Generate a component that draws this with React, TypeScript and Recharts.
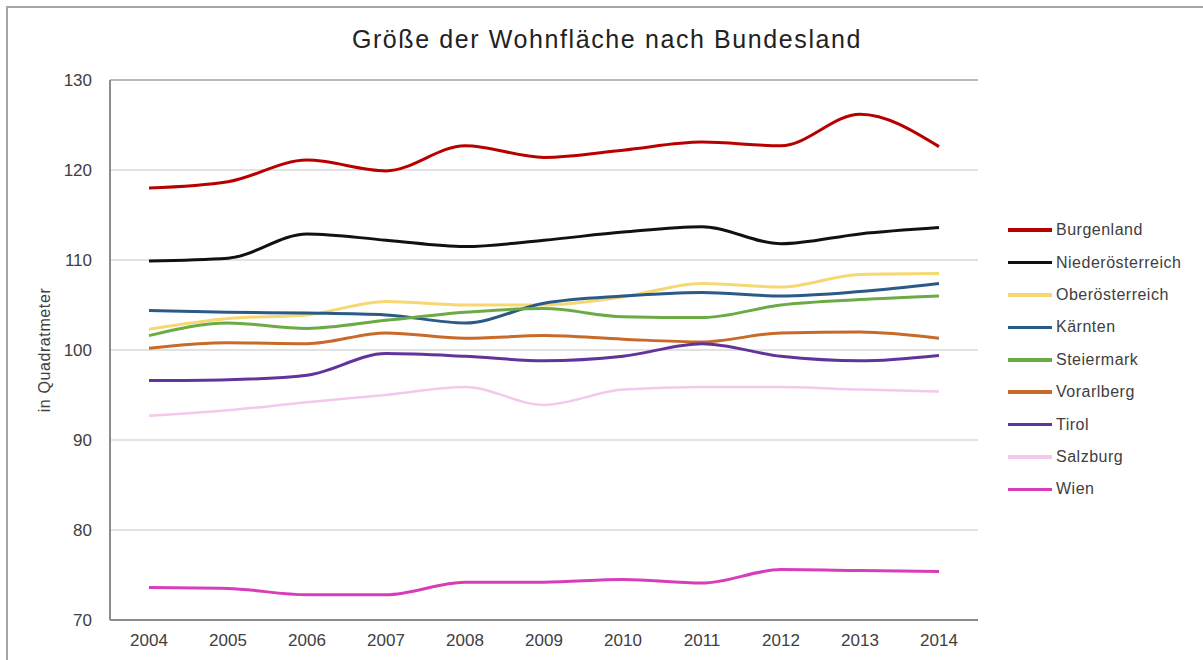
import { LineChart, Line, XAxis, YAxis, CartesianGrid, ReferenceLine } from "recharts";

const years = ["2004", "2005", "2006", "2007", "2008", "2009", "2010", "2011", "2012", "2013", "2014"];
const yTicks = [70, 80, 90, 100, 110, 120, 130];

const burgenland = [118.0, 118.7, 121.1, 119.9, 122.7, 121.4, 122.2, 123.1, 122.7, 126.2, 122.6];
const niederoesterreich = [109.9, 110.2, 112.9, 112.2, 111.5, 112.2, 113.1, 113.7, 111.8, 112.9, 113.6];
const oberoesterreich = [102.3, 103.5, 103.9, 105.4, 105.0, 105.0, 105.9, 107.4, 107.0, 108.4, 108.5];
const kaernten = [104.4, 104.2, 104.1, 103.9, 103.0, 105.2, 106.0, 106.4, 106.0, 106.5, 107.4];
const steiermark = [101.6, 103.0, 102.4, 103.3, 104.2, 104.6, 103.7, 103.6, 105.0, 105.6, 106.0];
const vorarlberg = [100.2, 100.8, 100.7, 101.9, 101.3, 101.6, 101.2, 100.9, 101.9, 102.0, 101.3];
const tirol = [96.6, 96.7, 97.2, 99.6, 99.3, 98.8, 99.3, 100.7, 99.3, 98.8, 99.4];
const salzburg = [92.7, 93.3, 94.2, 95.0, 95.9, 93.9, 95.6, 95.9, 95.9, 95.6, 95.4];
const wien = [73.6, 73.5, 72.8, 72.8, 74.2, 74.2, 74.5, 74.1, 75.6, 75.5, 75.4];

const series = [
  { key: "Burgenland", values: burgenland, color: "#b80000", width: 3 },
  { key: "Niederösterreich", values: niederoesterreich, color: "#111111", width: 3 },
  { key: "Oberösterreich", values: oberoesterreich, color: "#f5d872", width: 3 },
  { key: "Kärnten", values: kaernten, color: "#2a5a86", width: 3 },
  { key: "Steiermark", values: steiermark, color: "#6aab45", width: 3 },
  { key: "Vorarlberg", values: vorarlberg, color: "#c86a2a", width: 3 },
  { key: "Tirol", values: tirol, color: "#62349a", width: 3 },
  { key: "Salzburg", values: salzburg, color: "#f3c8ec", width: 2.5 },
  { key: "Wien", values: wien, color: "#d83cb8", width: 3 },
];

const data = years.map((y, i) => {
  const row: Record<string, string | number> = { year: y };
  series.forEach((s) => (row[s.key] = s.values[i]));
  return row;
});

const font = "'Liberation Sans', Arial, sans-serif";
const tickStyle = { fontSize: 17, fill: "#404040", fontFamily: font };

export default function App() {
  return (
    <div style={{ position: "absolute", left: 0, top: 0, width: 1203, height: 660, background: "#fff", overflow: "hidden" }}>
      <div
        style={{
          position: "absolute", left: 6, top: 6, width: 1197, height: 654,
          borderTop: "2px solid #a6a6a6", borderLeft: "2px solid #a6a6a6",
        }}
      />
      <div
        style={{
          position: "absolute", left: 0, top: 27, width: 1214, textAlign: "center",
          fontFamily: font, fontSize: 25, lineHeight: "25px", letterSpacing: 1.6, color: "#222",
        }}
      >
        Größe der Wohnfläche nach Bundesland
      </div>
      <LineChart
        width={1203}
        height={660}
        data={data}
        margin={{ top: 80, right: 225, bottom: 0, left: 0 }}
        style={{ position: "absolute", left: 0, top: 0 }}
      >
        <CartesianGrid vertical={false} stroke="#d9d9d9" strokeWidth={1.5} />
        <XAxis
          dataKey="year"
          height={40}
          padding={{ left: 39, right: 39 }}
          tickLine={false}
          tickMargin={8}
          axisLine={{ stroke: "#8c8c8c", strokeWidth: 2 }}
          tick={tickStyle}
        />
        <YAxis
          width={110}
          domain={[70, 130]}
          ticks={yTicks}
          tickLine={false}
          tickMargin={12}
          axisLine={{ stroke: "#8c8c8c", strokeWidth: 2 }}
          tick={tickStyle}
          label={{
            value: "in Quadratmeter", angle: -90, position: "center", dx: -11,
            style: { fontSize: 16, fill: "#404040", fontFamily: font, letterSpacing: 0.6 },
          }}
        />
        <YAxis
          yAxisId="frame"
          orientation="right"
          width={0}
          tick={false}
          tickLine={false}
          axisLine={{ stroke: "#a0a0a0", strokeWidth: 2 }}
        />
        <ReferenceLine y={130} stroke="#a8a8a8" strokeWidth={1.5} />
        {series.map((s) => (
          <Line
            key={s.key}
            dataKey={s.key}
            type="monotone"
            stroke={s.color}
            strokeWidth={s.width}
            dot={false}
            activeDot={false}
            isAnimationActive={false}
          />
        ))}
      </LineChart>
      <div style={{ position: "absolute", left: 1008, top: 214, fontFamily: font, fontSize: 16, color: "#404040", letterSpacing: 0.5 }}>
        {series.map((s) => (
          <div key={s.key} style={{ display: "flex", alignItems: "center", height: 32.4 }}>
            <span style={{ display: "inline-block", width: 44, height: 3.5, background: s.color, marginRight: 4 }} />
            <span>{s.key}</span>
          </div>
        ))}
      </div>
    </div>
  );
}
